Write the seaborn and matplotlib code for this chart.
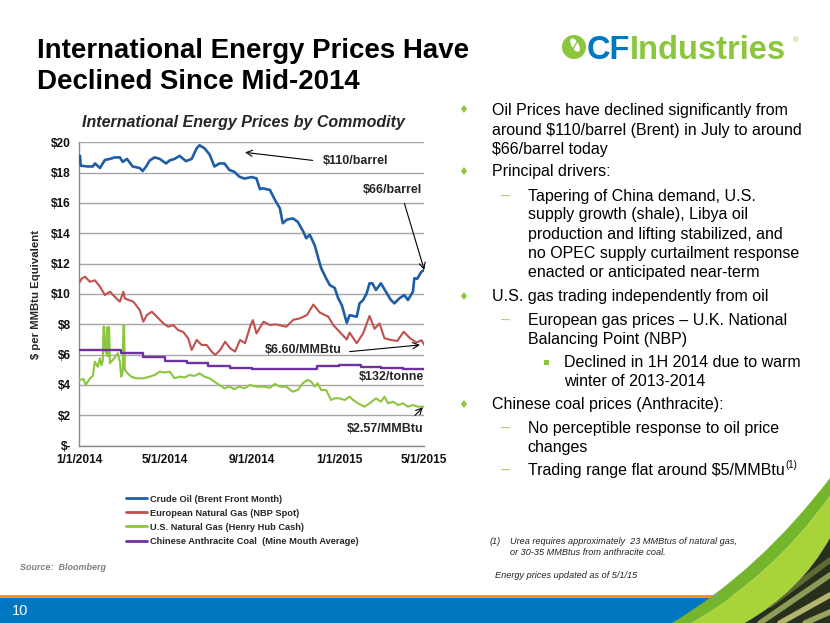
import matplotlib
matplotlib.use("Agg")
import matplotlib.pyplot as plt
import seaborn as sns
import pandas as pd
from matplotlib.patches import Circle, PathPatch, Rectangle, Ellipse
from matplotlib.path import Path
from matplotlib.lines import Line2D

# ---------------- data ----------------
brent_dates = ['2014-01-02','2014-01-03','2014-01-13','2014-01-20','2014-01-23','2014-01-30','2014-02-06','2014-02-13',
 '2014-02-20','2014-02-27','2014-03-03','2014-03-09','2014-03-17','2014-03-27','2014-03-31','2014-04-05','2014-04-10',
 '2014-04-17','2014-04-24','2014-05-03','2014-05-08','2014-05-15','2014-05-22','2014-05-31','2014-06-08','2014-06-15',
 '2014-06-19','2014-06-26','2014-07-03','2014-07-10','2014-07-17','2014-07-24','2014-07-31','2014-08-07','2014-08-14',
 '2014-08-21','2014-08-31','2014-09-07','2014-09-12','2014-09-16','2014-09-26','2014-10-03','2014-10-10','2014-10-14',
 '2014-10-20','2014-10-28','2014-11-04','2014-11-12','2014-11-16','2014-11-21','2014-11-28','2014-12-03','2014-12-07',
 '2014-12-14','2014-12-19','2014-12-26','2014-12-31','2015-01-05','2015-01-07','2015-01-12','2015-01-16','2015-01-26',
 '2015-01-30','2015-02-04','2015-02-09','2015-02-13','2015-02-17','2015-02-22','2015-03-01','2015-03-08','2015-03-15',
 '2015-03-20','2015-03-27','2015-04-03','2015-04-08','2015-04-15','2015-04-17','2015-04-21','2015-04-27','2015-05-01']
brent_values = [19.1,18.45,18.4,18.4,18.6,18.3,18.83,18.9,19.0,19.0,18.7,18.9,18.4,18.3,18.1,18.4,18.8,19.0,18.9,18.6,
 18.8,18.9,19.1,18.75,18.9,19.6,19.8,19.6,19.2,18.4,18.6,18.6,18.17,18.05,17.73,17.6,17.7,17.62,16.9,16.96,16.85,16.2,
 15.64,14.66,14.9,14.98,14.76,14.1,13.67,13.9,13.2,12.35,11.7,11.03,10.59,10.4,9.71,9.27,8.94,8.1,8.6,8.5,9.38,9.6,
 10.04,10.7,10.7,10.26,10.7,10.15,9.6,9.38,9.71,9.93,9.6,10.15,11.03,11.0,11.47,11.58]

nbp_dates = ['2014-01-02','2014-01-04','2014-01-09','2014-01-16','2014-01-23','2014-01-30','2014-02-06','2014-02-13',
 '2014-02-22','2014-02-27','2014-03-04','2014-03-06','2014-03-18','2014-03-27','2014-04-01','2014-04-06','2014-04-13',
 '2014-04-20','2014-04-29','2014-05-06','2014-05-13','2014-05-20','2014-05-27','2014-06-03','2014-06-08','2014-06-15',
 '2014-06-22','2014-06-29','2014-07-06','2014-07-11','2014-07-18','2014-07-25','2014-08-01','2014-08-08','2014-08-15',
 '2014-08-22','2014-08-29','2014-09-02','2014-09-07','2014-09-17','2014-09-26','2014-10-04','2014-10-19','2014-10-29',
 '2014-11-07','2014-11-17','2014-11-26','2014-12-05','2014-12-17','2014-12-24','2015-01-02','2015-01-12','2015-01-16',
 '2015-01-26','2015-02-04','2015-02-13','2015-02-20','2015-02-27','2015-03-06','2015-03-15','2015-03-24','2015-04-02',
 '2015-04-11','2015-04-20','2015-04-27','2015-05-01']
nbp_values = [10.81,11.0,11.14,10.8,10.9,10.48,9.93,10.15,9.71,9.49,10.15,9.7,9.49,8.94,8.17,8.61,8.83,8.5,8.07,7.84,
 7.95,7.62,7.5,7.08,6.31,6.97,6.64,6.64,6.2,5.98,6.31,6.85,6.42,6.2,6.97,6.75,7.84,8.28,7.4,8.17,7.95,8.0,7.84,8.3,
 8.39,8.61,9.3,8.78,8.5,7.95,7.5,7.0,7.45,6.75,7.4,8.55,7.7,8.06,7.08,6.97,6.9,7.51,7.08,6.8,6.95,6.64]

hh_dates = ['2014-01-02','2014-01-07','2014-01-10','2014-01-16','2014-01-20','2014-01-23','2014-01-27','2014-01-30',
 '2014-02-01','2014-02-03','2014-02-04','2014-02-05','2014-02-06','2014-02-08','2014-02-09','2014-02-10','2014-02-11',
 '2014-02-12','2014-02-13','2014-02-19','2014-02-24','2014-02-27','2014-03-01','2014-03-03','2014-03-04','2014-03-05',
 '2014-03-06','2014-03-10','2014-03-15','2014-03-22','2014-04-01','2014-04-10','2014-04-17','2014-04-24','2014-05-01',
 '2014-05-08','2014-05-15','2014-05-22','2014-05-29','2014-06-05','2014-06-12','2014-06-19','2014-06-26','2014-07-03',
 '2014-07-10','2014-07-17','2014-07-24','2014-07-31','2014-08-07','2014-08-14','2014-08-21','2014-08-29','2014-09-07',
 '2014-09-16','2014-09-26','2014-10-03','2014-10-10','2014-10-19','2014-10-28','2014-11-04','2014-11-11','2014-11-18',
 '2014-11-23','2014-11-28','2014-12-02','2014-12-07','2014-12-14','2014-12-21','2014-12-26','2015-01-02','2015-01-09',
 '2015-01-16','2015-01-21','2015-01-28','2015-02-06','2015-02-13','2015-02-22','2015-03-01','2015-03-06','2015-03-11',
 '2015-03-18','2015-03-25','2015-04-01','2015-04-08','2015-04-15','2015-04-22','2015-05-01']
hh_values = [4.33,4.4,4.0,4.44,4.6,5.54,5.2,5.76,5.3,5.6,7.84,7.84,6.3,6.09,7.8,5.9,7.8,7.8,5.43,5.76,6.09,5.54,4.55,
 4.88,7.95,7.95,5.0,4.77,4.55,4.44,4.44,4.55,4.66,4.88,4.82,4.88,4.44,4.55,4.5,4.66,4.6,4.77,4.55,4.44,4.22,4.0,3.78,
 3.9,3.73,3.9,3.78,4.0,3.89,3.9,3.82,4.07,3.89,3.89,3.56,3.67,4.11,4.33,4.22,3.89,4.11,3.67,3.67,3.01,3.12,3.12,3.01,
 3.23,3.01,2.79,2.57,2.79,3.12,2.9,3.23,2.79,2.9,2.68,2.79,2.57,2.68,2.57,2.57]

coal_dates = ['2014-01-01','2014-02-01','2014-03-01','2014-04-01','2014-05-01','2014-06-01','2014-07-01','2014-08-01',
 '2014-09-01','2014-10-01','2014-11-01','2014-12-01','2015-01-01','2015-02-01','2015-03-01','2015-04-01','2015-05-01']
coal_values = [6.3,6.28,6.1,5.85,5.6,5.42,5.25,5.12,5.08,5.07,5.07,5.25,5.3,5.2,5.12,5.05,5.05]

series_names = ['Crude Oil (Brent Front Month)', 'European Natural Gas (NBP Spot)',
                'U.S. Natural Gas (Henry Hub Cash)', 'Chinese Anthracite Coal  (Mine Mouth Average)']
series_colors = ['#1F5DA8', '#C0504D', '#8CC63F', '#7030A0']

x_tick_dates = ['2014-01-01', '2014-05-01', '2014-09-01', '2015-01-01', '2015-05-01']
x_tick_labels = ['1/1/2014', '5/1/2014', '9/1/2014', '1/1/2015', '5/1/2015']
y_ticks = [0, 2, 4, 6, 8, 10, 12, 14, 16, 18, 20]
y_tick_labels = ['$-', '$2', '$4', '$6', '$8', '$10', '$12', '$14', '$16', '$18', '$20']

# ---------------- style ----------------
sns.set_theme(style="white")
plt.rcParams['font.family'] = ['Liberation Sans', 'DejaVu Sans']
plt.rcParams['text.parse_math'] = False

W, H, DPI = 830, 623, 100
fig = plt.figure(figsize=(W / DPI, H / DPI), dpi=DPI)
fig.patch.set_facecolor('white')

bg = fig.add_axes([0, 0, 1, 1], zorder=0)
bg.set_xlim(0, W)
bg.set_ylim(H, 0)
bg.axis('off')
fig.canvas.draw()
renderer = fig.canvas.get_renderer()

# ---------------- bottom bar and swoosh ----------------
bg.add_patch(Rectangle((0, 594.5), W, 4, color='#F7941D', lw=0))
bg.add_patch(Rectangle((0, 598), W, 25, color='#0077C0', lw=0))
bg.text(12, 611, '10', color='white', fontsize=10.5, va='center', ha='left')

def curve_band(outer, inner, color, z):
    verts = [outer[0], outer[1], outer[2], inner[2], inner[1], inner[0], outer[0]]
    codes = [Path.MOVETO, Path.CURVE3, Path.CURVE3, Path.LINETO, Path.CURVE3, Path.CURVE3, Path.CLOSEPOLY]
    bg.add_patch(PathPatch(Path(verts, codes), facecolor=color, edgecolor='none', zorder=z))

c_outer = [(672, 623), (760, 570), (830, 478)]
c_mid = [(690, 623), (772, 577), (830, 496)]
c_inner = [(745, 623), (800, 592), (830, 538)]
curve_band(c_outer, c_mid, '#74B52B', 2)
curve_band(c_mid, c_inner, '#A8D43A', 2)
dark_verts = [c_inner[0], c_inner[1], c_inner[2], (830, 623), c_inner[0]]
dark_codes = [Path.MOVETO, Path.CURVE3, Path.CURVE3, Path.LINETO, Path.CLOSEPOLY]
dark = PathPatch(Path(dark_verts, dark_codes), facecolor='#27301C', edgecolor='none', zorder=2)
bg.add_patch(dark)
for (x0, y0, x1, y1, col) in [(760, 623, 830, 575, '#8E9A55'), (780, 623, 830, 595, '#B3B56C'),
                              (770, 605, 830, 560, '#5E6B35'), (805, 623, 830, 612, '#9AA35E')]:
    ln = Line2D([x0, x1], [y0, y1], color=col, lw=4, zorder=3, solid_capstyle='round')
    bg.add_line(ln)
    ln.set_clip_path(dark)

# ---------------- title and logo ----------------
t1 = bg.text(37, 58, 'International Energy Prices Have', fontsize=24, fontweight='bold',
             va='baseline', ha='left', color='black')
w1 = t1.get_window_extent(renderer).width
title_fs = 24 * 433.0 / w1
t1.set_fontsize(title_fs)
bg.text(37, 89, 'Declined Since Mid-2014', fontsize=title_fs, fontweight='bold',
        va='baseline', ha='left', color='black')

bg.add_patch(Circle((574, 47), 12, color='#8CC63F', lw=0))
bg.add_patch(Ellipse((575, 45), 7, 15, angle=-30, color='white', lw=0))
bg.plot([569, 578], [56, 40], color='#8CC63F', lw=1)
t_cf = bg.text(587, 59, 'CF', fontsize=23.5, fontweight='bold', color='#0079C1',
               va='baseline', ha='left')
cf_end = t_cf.get_window_extent(renderer).x1
bg.text(cf_end - 0.5, 59, 'Industries', fontsize=23.5, fontweight='bold', color='#8CC63F',
        va='baseline', ha='left')
bg.text(795, 41, '\u00ae', fontsize=5, color='#8CC63F', va='center', ha='center')

# ---------------- chart ----------------
ax = fig.add_axes([79.3 / W, 1 - 445.7 / H, 345 / W, 303.5 / H], zorder=2)
ax.patch.set_alpha(0)

series = [(brent_dates, brent_values, 1.9), (nbp_dates, nbp_values, 1.5),
          (hh_dates, hh_values, 1.5)]
for (d, v, lw), name, col in zip(series, series_names[:3], series_colors[:3]):
    df = pd.DataFrame({'date': pd.to_datetime(d), 'value': v})
    sns.lineplot(data=df, x='date', y='value', color=col, lw=lw, ax=ax, sort=False,
                 estimator=None, label=name, legend=False, zorder=3)
df_coal = pd.DataFrame({'date': pd.to_datetime(coal_dates), 'value': coal_values})
sns.lineplot(data=df_coal, x='date', y='value', color=series_colors[3], lw=1.7, ax=ax, sort=False,
             estimator=None, label=series_names[3], legend=False, drawstyle='steps-post', zorder=3)

ax.set_xlim(pd.Timestamp('2014-01-01'), pd.Timestamp('2015-05-01'))
ax.set_ylim(0, 20)
ax.set_xticks(pd.to_datetime(x_tick_dates))
ax.set_xticklabels(x_tick_labels)
ax.set_yticks(y_ticks)
ax.set_yticklabels(y_tick_labels)
ax.set_xlabel('')
ax.set_ylabel('')
ax.yaxis.grid(True, color='#A6A6A6', lw=1.0, zorder=0)
ax.xaxis.grid(False)
ax.set_axisbelow(True)
for s in ['top', 'right']:
    ax.spines[s].set_visible(False)
for s in ['left', 'bottom']:
    ax.spines[s].set_color('#8C8C8C')
    ax.spines[s].set_linewidth(1.0)
ax.tick_params(axis='x', length=4, width=1, color='#8C8C8C', pad=2, labelsize=8.6, direction='out')
ax.tick_params(axis='y', length=0, pad=6, labelsize=8.6)
for lab in ax.get_xticklabels() + ax.get_yticklabels():
    lab.set_fontweight('bold')
    lab.set_color('#111111')

arrow_kw = dict(arrowstyle='->', color='black', lw=0.8, shrinkA=0, shrinkB=0, mutation_scale=11)
ts = pd.Timestamp
ax.annotate('', xy=(ts('2014-08-22'), 19.33), xytext=(ts('2014-11-25'), 18.8), arrowprops=arrow_kw)
ax.text(ts('2014-12-09'), 18.75, '$110/barrel', fontsize=9, fontweight='bold', va='center', ha='left')
ax.text(ts('2015-03-17'), 16.85, '$66/barrel', fontsize=9, fontweight='bold', va='center', ha='center')
ax.annotate('', xy=(ts('2015-05-01'), 11.58), xytext=(ts('2015-04-03'), 15.97), arrowprops=arrow_kw,
            annotation_clip=False)
ax.text(ts('2014-09-19'), 6.31, '$6.60/MMBtu', fontsize=9, fontweight='bold', va='center', ha='left')
ax.annotate('', xy=(ts('2015-04-25'), 6.64), xytext=(ts('2015-01-16'), 6.2), arrowprops=arrow_kw)
ax.text(ts('2015-04-30'), 4.5, '$132/tonne', fontsize=9, fontweight='bold', va='center', ha='right')
ax.text(ts('2015-04-30'), 1.08, '$2.57/MMBtu', fontsize=9, fontweight='bold', va='center', ha='right')
ax.annotate('', xy=(ts('2015-04-29'), 2.53), xytext=(ts('2015-04-18'), 2.0), arrowprops=arrow_kw)

bg.text(243, 123, 'International Energy Prices by Commodity', fontsize=11.5, fontweight='bold',
        style='italic', ha='center', va='center')
bg.text(36, 294, '$ per MMBtu Equivalent', fontsize=8.2, fontweight='bold', rotation=90,
        ha='center', va='center')

handles = [Line2D([], [], color=c, lw=2) for c in series_colors]
fig.legend(handles, series_names, loc='upper left', bbox_to_anchor=(126 / W, 1 - 494.5 / H),
           frameon=False, prop={'size': 6.7, 'weight': 'bold'}, handlelength=2.3,
           handletextpad=0.3, labelspacing=0.55, borderpad=0, borderaxespad=0)

bg.text(20, 567, 'Source:  Bloomberg', fontsize=6.5, fontweight='bold', style='italic',
        color='#808080', va='center', ha='left')

# ---------------- bullet text ----------------
fs = 11.5
green = '#8CC63F'
dash_green = '#A6D46A'

def bullet(x, y):
    bg.text(x, y, '\u2666', fontsize=8, color=green, ha='center', va='center',
            family=['DejaVu Sans'])

def dash(x, y):
    bg.text(x, y, '\u2013', fontsize=fs, color=dash_green, ha='center', va='center')

def square(x, y):
    bg.add_patch(Rectangle((x - 2.5, y - 2.5), 5, 5, color=green, lw=0))

def line(x, y, s):
    return bg.text(x, y, s, fontsize=fs, ha='left', va='center', color='black')

bullet(463.3, 110)
line(491.7, 110, 'Oil Prices have declined significantly from')
line(491.7, 130, 'around $110/barrel (Brent) in July to around')
line(491.7, 149.3, '$66/barrel today')
bullet(463.3, 171.7)
line(491.7, 171.7, 'Principal drivers:')
dash(505.7, 196)
line(527.7, 196, 'Tapering of China demand, U.S.')
line(527.7, 215, 'supply growth (shale), Libya oil')
line(527.7, 234, 'production and lifting stabilized, and')
line(527.7, 253.3, 'no OPEC supply curtailment response')
line(527.7, 272.7, 'enacted or anticipated near-term')
bullet(463.3, 296.7)
line(491.7, 296.7, 'U.S. gas trading independently from oil')
dash(505.7, 320)
line(527.7, 320, 'European gas prices \u2013 U.K. National')
line(527.7, 339.3, 'Balancing Point (NBP)')
square(546.7, 362.3)
line(564, 362.3, 'Declined in 1H 2014 due to warm')
line(564, 381.7, 'winter of 2013-2014')
bullet(463.3, 405)
line(491.7, 405, 'Chinese coal prices (Anthracite):')
dash(505.7, 428.3)
line(527.7, 428.3, 'No perceptible response to oil price')
line(527.7, 447.3, 'changes')
dash(505.7, 470)
t_last = line(527.7, 470, 'Trading range flat around $5/MMBtu')
bb = t_last.get_window_extent(renderer)
bg.text(bb.x1 + 0.5, 465, '(1)', fontsize=7, ha='left', va='center', color='black')

fn = 6.6
bg.text(490, 541.7, '(1)', fontsize=fn, style='italic', ha='left', va='center', color='#222222')
bg.text(510, 541.7, 'Urea requires approximately  23 MMBtus of natural gas,', fontsize=fn,
        style='italic', ha='left', va='center', color='#222222')
bg.text(510, 552.7, 'or 30-35 MMBtus from anthracite coal.', fontsize=fn, style='italic',
        ha='left', va='center', color='#222222')
bg.text(495, 575, 'Energy prices updated as of 5/1/15', fontsize=fn, style='italic',
        ha='left', va='center', color='#222222')

fig.savefig('out.png', dpi=DPI, facecolor='white')
